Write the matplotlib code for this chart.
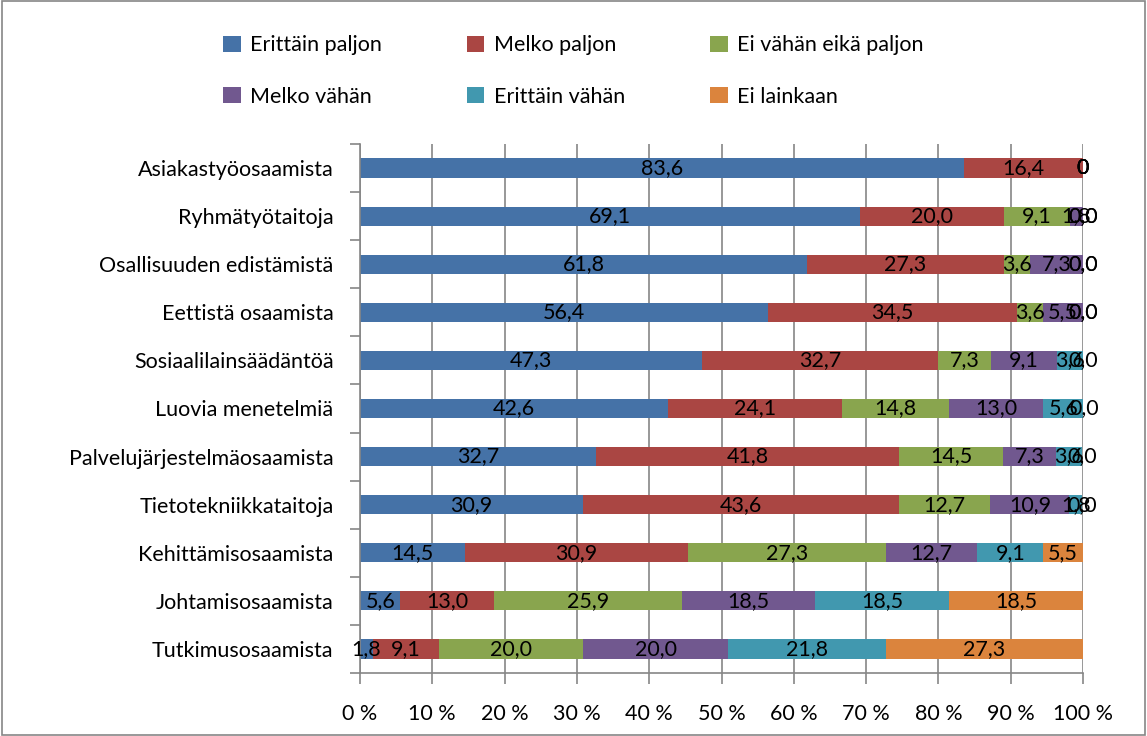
import matplotlib
matplotlib.use("Agg")
import matplotlib.pyplot as plt
from matplotlib.patches import Rectangle

plt.rcParams['font.family'] = ['Lato', 'DejaVu Sans']

# aineisto (%)
osaamiset = ["Asiakastyöosaamista", "Ryhmätyötaitoja", "Osallisuuden edistämistä",
             "Eettistä osaamista", "Sosiaalilainsäädäntöä", "Luovia menetelmiä",
             "Palvelujärjestelmäosaamista", "Tietotekniikkataitoja",
             "Kehittämisosaamista", "Johtamisosaamista", "Tutkimusosaamista"]
sarjat = ["Erittäin paljon", "Melko paljon", "Ei vähän eikä paljon",
          "Melko vähän", "Erittäin vähän", "Ei lainkaan"]

erittain_paljon = [83.6, 69.1, 61.8, 56.4, 47.3, 42.6, 32.7, 30.9, 14.5, 5.6, 1.8]
melko_paljon    = [16.4, 20.0, 27.3, 34.5, 32.7, 24.1, 41.8, 43.6, 30.9, 13.0, 9.1]
ei_vahan_eika   = [0.0, 9.1, 3.6, 3.6, 7.3, 14.8, 14.5, 12.7, 27.3, 25.9, 20.0]
melko_vahan     = [0.0, 1.8, 7.3, 5.5, 9.1, 13.0, 7.3, 10.9, 12.7, 18.5, 20.0]
erittain_vahan  = [0.0, 0.0, 0.0, 0.0, 3.6, 5.6, 3.6, 1.8, 9.1, 18.5, 21.8]
ei_lainkaan     = [0.0, 0.0, 0.0, 0.0, 0.0, 0.0, 0.0, 0.0, 5.5, 18.5, 27.3]

arvot = [erittain_paljon, melko_paljon, ei_vahan_eika, melko_vahan, erittain_vahan, ei_lainkaan]
varit = ["#4572A7", "#AA4643", "#89A54E", "#71588F", "#4198AF", "#DB843D"]
xtikit = ["0 %", "10 %", "20 %", "30 %", "40 %", "50 %", "60 %", "70 %", "80 %", "90 %", "100 %"]

fs = 15.5

fig = plt.figure(figsize=(11.47, 7.36), dpi=100)
fig.patches.append(Rectangle((0.0015, 0.002), 0.997, 0.996, transform=fig.transFigure,
                             fill=False, edgecolor="#868686", lw=1.2))
ax = fig.add_axes([360 / 1147, 1 - 673 / 736, (1083 - 360) / 1147, (673 - 144) / 736])

y = list(range(len(osaamiset)))
alku = [0.0] * len(osaamiset)
palkit = []
for nimi, sarja, vari in zip(sarjat, arvot, varit):
    b = ax.barh(y, sarja, left=alku, height=0.4, color=vari, label=nimi, zorder=2)
    palkit.append(b)
    for i, v in enumerate(sarja):
        if i == 0 and v == 0:
            teksti = "0"
        else:
            teksti = f"{v:.1f}".replace(".", ",")
        ax.text(alku[i] + v / 2, i, teksti, ha="center", va="center", fontsize=fs,
                color="black", zorder=3)
    alku = [a + v for a, v in zip(alku, sarja)]

ax.set_xlim(0, 100)
ax.set_ylim(len(osaamiset) - 0.5, -0.5)
ax.set_xticks(range(0, 101, 10))
ax.set_xticklabels(xtikit, fontsize=fs)
ax.set_yticks(y)
ax.set_yticklabels(osaamiset, fontsize=fs)
ax.set_yticks([i - 0.5 for i in range(len(osaamiset) + 1)], minor=True)
ax.tick_params(axis="y", which="major", length=0, pad=19)
ax.tick_params(axis="y", which="minor", length=7, color="#868686", width=1.2)
ax.tick_params(axis="x", length=8, color="#868686", width=1.2, pad=14)
ax.grid(axis="x", color="#868686", lw=1.2, zorder=0)
for s in ["top", "right"]:
    ax.spines[s].set_visible(False)
for s in ["left", "bottom"]:
    ax.spines[s].set_color("#868686")
    ax.spines[s].set_linewidth(1.2)

jarjestys = [0, 3, 1, 4, 2, 5]
fig.legend([palkit[k] for k in jarjestys], [sarjat[k] for k in jarjestys],
           ncol=3, loc="center", bbox_to_anchor=(0.5, 1 - 71 / 736), frameon=False,
           fontsize=fs, handlelength=0.8, handleheight=0.8, handletextpad=0.45,
           columnspacing=3.95, labelspacing=1.45)

fig.savefig("out.png", dpi=100)
